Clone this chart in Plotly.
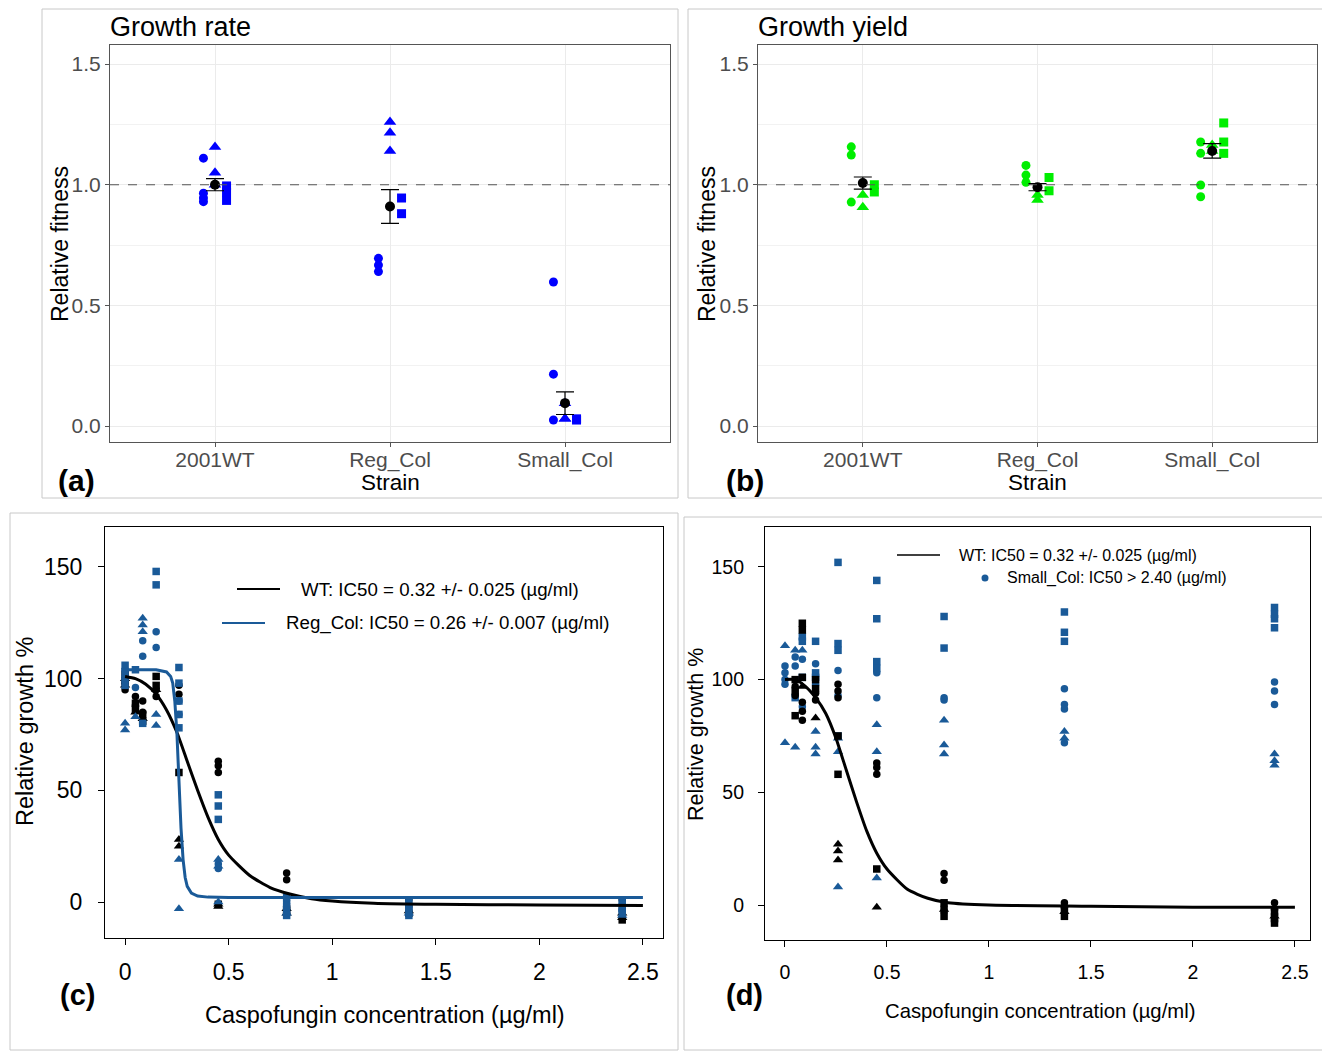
import plotly.graph_objects as go

OFF = 8  # page body margin of the html page
W, H = 1330 - OFF, 1051 - OFF
FONT = "Liberation Sans, Arial, sans-serif"
BLUE_A = "#0000FF"
GREEN_B = "#00EE00"
BLUE_C = "#1A5A98"


def px(x):
    return (x - OFF) / W


def py(y):
    return 1 - (y - OFF) / H


# ---------------- data ----------------
strains = ["2001WT", "Reg_Col", "Small_Col"]

# (a) growth rate: strain index (1..3) and relative fitness per replicate shape
rate_circle_s = [1, 1, 1, 1, 2, 2, 2, 3, 3, 3]
rate_circle_v = [1.11, 0.965, 0.945, 0.93, 0.695, 0.667, 0.64, 0.597, 0.215, 0.025]
rate_tri_s = [1, 1, 1, 2, 2, 2, 3, 3, 3]
rate_tri_v = [1.156, 1.05, 1.0, 1.26, 1.215, 1.14, 0.095, 0.03, 0.03]
rate_sq_s = [1, 1, 1, 2, 2, 3, 3]
rate_sq_v = [0.995, 0.97, 0.935, 0.945, 0.88, 0.03, 0.025]
rate_mean = [1.0, 0.91, 0.095]
rate_err = [0.025, 0.07, 0.047]

# (b) growth yield
yield_circle_s = [1, 1, 1, 2, 2, 2, 3, 3, 3, 3]
yield_circle_v = [1.157, 1.123, 0.928, 1.08, 1.04, 1.01, 1.177, 1.13, 0.999, 0.95]
yield_tri_s = [1, 1, 2, 2, 3, 3]
yield_tri_v = [0.957, 0.907, 0.957, 0.937, 1.165, 1.14]
yield_sq_s = [1, 1, 2, 2, 3, 3, 3]
yield_sq_v = [1.0, 0.97, 1.03, 0.975, 1.256, 1.177, 1.13]
yield_mean = [1.007, 0.99, 1.14]
yield_err = [0.025, 0.015, 0.03]

# (c) dose response, WT (black) and Reg_Col (blue)
c_wt_circle_x = [0, 0, 0.05, 0.05, 0.085, 0.085, 0.15, 0.15, 0.26, 0.26, 0.45, 0.45, 0.45, 0.78, 0.78, 0.78, 1.37, 1.37, 2.4, 2.4]
c_wt_circle_y = [98, 95, 92, 88, 90, 85, 95, 92, 97, 93, 63, 61, 58, 13, 10, -2, 1, -2, 1, -3]
c_wt_tri_x = [0, 0, 0.05, 0.085, 0.15, 0.26, 0.26, 0.45, 0.45, 0.78, 0.78, 1.37, 2.4, 2.4]
c_wt_tri_y = [100, 97, 85, 82, 95, 28, 25, -1, -2, -3, -5, -4, -5, -7]
c_wt_sq_x = [0, 0, 0.05, 0.05, 0.085, 0.085, 0.15, 0.15, 0.26, 0.45, 0.78, 1.37, 2.4]
c_wt_sq_y = [102, 99, 89, 86, 84, 81, 101, 97, 58, -1, -4, -5, -8]

c_reg_circle_x = [0, 0, 0.05, 0.085, 0.085, 0.15, 0.15, 0.26, 0.26, 0.45, 0.45, 0.78, 0.78, 1.37, 1.37, 2.4, 2.4]
c_reg_circle_y = [104, 100, 96, 117, 110, 121, 114, 90, 84, 17, 15, 0, -4, -1, -3, -1, -4]
c_reg_tri_x = [0, 0, 0.05, 0.085, 0.085, 0.085, 0.15, 0.15, 0.26, 0.26, 0.45, 0.45, 0.45, 0.78, 1.37, 2.4]
c_reg_tri_y = [80, 77, 83, 127, 124, 121, 84, 79, 19, -3, 19, 16, 0, -5, -5, -6]
c_reg_sq_x = [0, 0, 0, 0, 0.05, 0.085, 0.15, 0.15, 0.26, 0.26, 0.26, 0.26, 0.26, 0.45, 0.45, 0.45, 0.78, 0.78, 0.78, 1.37, 1.37, 1.37, 2.4, 2.4, 2.4]
c_reg_sq_y = [106, 103, 100, 97, 104, 80, 148, 142, 105, 98, 90, 84, 78, 48, 43, 37, 2, -2, -6, 1, -3, -6, 0, -3, -5]

# fitted curves
c_wt_fit_x = [0, 0.05, 0.1, 0.15, 0.2, 0.25, 0.3, 0.35, 0.4, 0.45, 0.5, 0.6, 0.7, 0.8, 0.9, 1.0, 1.2, 1.5, 2.0, 2.5]
c_wt_fit_y = [101, 100, 97.5, 93, 86, 76, 63, 50, 38, 28, 21, 12, 6.5, 3.5, 1.5, 0.5, -0.5, -1, -1.3, -1.5]
c_reg_fit_x = [0, 0.1, 0.15, 0.2, 0.22, 0.23, 0.24, 0.25, 0.26, 0.27, 0.28, 0.29, 0.3, 0.32, 0.35, 0.4, 0.5, 1.0, 2.5]
c_reg_fit_y = [104, 104, 104, 103, 101, 98, 90, 76, 53, 33, 19, 11, 7, 4, 2.7, 2.2, 2, 2, 2]

# (d) dose response, WT (black) and Small_Col (blue)
d_wt_circle_x = [0.05, 0.05, 0.085, 0.085, 0.085, 0.15, 0.15, 0.26, 0.26, 0.26, 0.45, 0.45, 0.45, 0.78, 0.78, 1.37, 1.37, 2.4, 2.4, 2.4]
d_wt_circle_y = [97, 93, 90, 86, 82, 94, 91, 98, 95, 92, 63, 61, 58, 14, 11, 1, -1, 1, -2, -4]
d_wt_tri_x = [0.085, 0.15, 0.26, 0.26, 0.26, 0.45, 0.78, 1.37, 2.4]
d_wt_tri_y = [97, 83, 27, 24, 20, -1, -2, -3, -5]
d_wt_sq_x = [0.05, 0.05, 0.05, 0.085, 0.085, 0.085, 0.15, 0.15, 0.26, 0.26, 0.45, 0.78, 0.78, 0.78, 1.37, 1.37, 2.4, 2.4, 2.4]
d_wt_sq_y = [100, 95, 84, 125, 122, 101, 100, 96, 75, 58, 16, 1, -2, -5, -2, -5, -3, -6, -8]

d_small_circle_x = [0, 0, 0, 0, 0.05, 0.05, 0.085, 0.085, 0.15, 0.15, 0.26, 0.26, 0.45, 0.45, 0.78, 0.78, 1.37, 1.37, 1.37, 1.37, 2.4, 2.4, 2.4]
d_small_circle_y = [106, 103, 100, 98, 110, 106, 109, 88, 107, 98, 104, 93, 103, 92, 92, 91, 96, 89, 87, 72, 99, 95, 89]
d_small_tri_x = [0, 0, 0.05, 0.05, 0.085, 0.15, 0.15, 0.15, 0.26, 0.26, 0.26, 0.45, 0.45, 0.45, 0.78, 0.78, 0.78, 1.37, 1.37, 2.4, 2.4, 2.4]
d_small_tri_y = [115, 72, 113, 70, 113, 77, 70, 67, 74, 68, 8, 80, 68, 12, 82, 71, 67, 77, 74, 67, 64, 62]
d_small_sq_x = [0.05, 0.085, 0.085, 0.085, 0.15, 0.15, 0.15, 0.26, 0.26, 0.26, 0.26, 0.45, 0.45, 0.45, 0.45, 0.78, 0.78, 1.37, 1.37, 1.37, 2.4, 2.4, 2.4, 2.4]
d_small_sq_y = [92, 119, 117, 101, 117, 103, 101, 152, 116, 113, 75, 144, 127, 108, 105, 128, 114, 130, 121, 117, 132, 129, 127, 123]

d_wt_fit_x = [0, 0.05, 0.1, 0.15, 0.2, 0.25, 0.3, 0.35, 0.4, 0.45, 0.5, 0.6, 0.7, 0.8, 1.0, 1.5, 2.0, 2.5]
d_wt_fit_y = [100, 100, 97, 92, 85, 74, 60, 46, 33, 23, 16, 7, 3, 1, 0, -0.5, -1, -1]

conc_ticks = [0, 0.5, 1, 1.5, 2, 2.5]
conc_ticktext = ["0", "0.5", "1", "1.5", "2", "2.5"]
growth_ticks = [0, 50, 100, 150]
fit_ticks = [0, 0.5, 1.0, 1.5]
fit_ticktext = ["0.0", "0.5", "1.0", "1.5"]

# ---------------- figure ----------------
fig = go.Figure()

JIT = 0.066  # horizontal dodge of replicate shapes


def strain_points(xa, ya, s, v, off, symbol, color, size):
    fig.add_trace(go.Scatter(
        x=[i + off for i in s], y=v, mode="markers", xaxis=xa, yaxis=ya,
        marker=dict(symbol=symbol, color=color, size=size, line=dict(width=0)),
        showlegend=False, hoverinfo="skip"))


for xa, ya, col, cs, cv, ts, tv, ss, sv, mean, err in [
    ("x", "y", BLUE_A, rate_circle_s, rate_circle_v, rate_tri_s, rate_tri_v, rate_sq_s, rate_sq_v, rate_mean, rate_err),
    ("x2", "y2", GREEN_B, yield_circle_s, yield_circle_v, yield_tri_s, yield_tri_v, yield_sq_s, yield_sq_v, yield_mean, yield_err),
]:
    strain_points(xa, ya, cs, cv, -JIT, "circle", col, 9)
    strain_points(xa, ya, ts, tv, 0, "triangle-up", col, 11)
    strain_points(xa, ya, ss, sv, JIT, "square", col, 9)
    fig.add_trace(go.Scatter(
        x=[1, 2, 3], y=mean, mode="markers", xaxis=xa, yaxis=ya,
        marker=dict(symbol="circle", color="black", size=10),
        error_y=dict(type="data", array=err, color="black", thickness=1.2, width=9),
        showlegend=False, hoverinfo="skip"))


def conc_points(xa, ya, x, y, symbol, color, size):
    fig.add_trace(go.Scatter(
        x=x, y=y, mode="markers", xaxis=xa, yaxis=ya,
        marker=dict(symbol=symbol, color=color, size=size, line=dict(width=0)),
        showlegend=False, hoverinfo="skip"))


# (c)
conc_points("x3", "y3", c_wt_circle_x, c_wt_circle_y, "circle", "black", 7.5)
conc_points("x3", "y3", c_wt_tri_x, c_wt_tri_y, "triangle-up", "black", 9)
conc_points("x3", "y3", c_wt_sq_x, c_wt_sq_y, "square", "black", 7.5)
conc_points("x3", "y3", c_reg_circle_x, c_reg_circle_y, "circle", BLUE_C, 7.5)
conc_points("x3", "y3", c_reg_tri_x, c_reg_tri_y, "triangle-up", BLUE_C, 9)
conc_points("x3", "y3", c_reg_sq_x, c_reg_sq_y, "square", BLUE_C, 7.5)
fig.add_trace(go.Scatter(x=c_wt_fit_x, y=c_wt_fit_y, mode="lines", xaxis="x3", yaxis="y3",
                         line=dict(color="black", width=3, shape="spline", smoothing=0.6),
                         showlegend=False, hoverinfo="skip"))
fig.add_trace(go.Scatter(x=c_reg_fit_x, y=c_reg_fit_y, mode="lines", xaxis="x3", yaxis="y3",
                         line=dict(color=BLUE_C, width=3),
                         showlegend=False, hoverinfo="skip"))

# (d)
conc_points("x4", "y4", d_small_circle_x, d_small_circle_y, "circle", BLUE_C, 7.5)
conc_points("x4", "y4", d_small_tri_x, d_small_tri_y, "triangle-up", BLUE_C, 9)
conc_points("x4", "y4", d_small_sq_x, d_small_sq_y, "square", BLUE_C, 7.5)
conc_points("x4", "y4", d_wt_circle_x, d_wt_circle_y, "circle", "black", 7.5)
conc_points("x4", "y4", d_wt_tri_x, d_wt_tri_y, "triangle-up", "black", 9)
conc_points("x4", "y4", d_wt_sq_x, d_wt_sq_y, "square", "black", 7.5)
fig.add_trace(go.Scatter(x=d_wt_fit_x, y=d_wt_fit_y, mode="lines", xaxis="x4", yaxis="y4",
                         line=dict(color="black", width=3, shape="spline", smoothing=0.6),
                         showlegend=False, hoverinfo="skip"))

# ---------------- axes ----------------
cat_x = dict(range=[0.4, 3.6], tickvals=[1, 2, 3], ticktext=strains, showgrid=True,
             gridcolor="#EBEBEB", gridwidth=1, zeroline=False, showline=True, mirror=True,
             linecolor="#555555", linewidth=1, ticks="outside", ticklen=4, tickcolor="#555555",
             tickfont=dict(family=FONT, size=21, color="#4D4D4D"), ticklabelstandoff=-5)
fit_y = dict(range=[-0.066, 1.579], tickvals=fit_ticks, ticktext=fit_ticktext,
             showgrid=True, gridcolor="#EBEBEB", gridwidth=1, zeroline=False, showline=True,
             mirror=True, linecolor="#555555", linewidth=1, ticks="outside", ticklen=4,
             tickcolor="#555555", tickfont=dict(family=FONT, size=21, color="#4D4D4D"),
             minor=dict(tickvals=[0.25, 0.75, 1.25], showgrid=True, gridcolor="#F2F2F2", ticks=""))
conc_x = dict(tickvals=conc_ticks, ticktext=conc_ticktext, showgrid=False, zeroline=False,
              showline=True, mirror=True, linecolor="black", linewidth=1.2, ticks="outside",
              ticklen=6, tickcolor="black")
conc_y = dict(tickvals=growth_ticks, showgrid=False, zeroline=False, showline=True, mirror=True,
              linecolor="black", linewidth=1.2, ticks="outside", ticklen=6, tickcolor="black")

fig.update_layout(
    width=W, height=H, margin=dict(l=0, r=0, t=0, b=0),
    paper_bgcolor="white", plot_bgcolor="white", showlegend=False,
    xaxis=dict(cat_x, domain=[px(110), px(670)], anchor="y"),
    yaxis=dict(fit_y, domain=[py(442), py(45)], anchor="x"),
    xaxis2=dict(cat_x, domain=[px(758), px(1317)], anchor="y2"),
    yaxis2=dict(fit_y, domain=[py(442), py(45)], anchor="x2"),
    xaxis3=dict(conc_x, domain=[px(105), px(663)], anchor="y3", range=[-0.097, 2.597],
                tickfont=dict(family=FONT, size=23, color="black"), ticklabelstandoff=7),
    yaxis3=dict(conc_y, domain=[py(938), py(527)], anchor="x3", range=[-16.1, 167.9],
                tickfont=dict(family=FONT, size=23, color="black"), ticklabelstandoff=11),
    xaxis4=dict(conc_x, domain=[px(765), px(1310)], anchor="y4", range=[-0.098, 2.574],
                tickfont=dict(family=FONT, size=19.5, color="black"), ticklabelstandoff=8),
    yaxis4=dict(conc_y, domain=[py(940), py(527)], anchor="x4", range=[-15.5, 167.7],
                tickfont=dict(family=FONT, size=19.5, color="black"), ticklabelstandoff=10),
)

# dashed reference line at relative fitness 1
for xr, yr in [("x domain", "y"), ("x2 domain", "y2")]:
    fig.add_shape(type="line", xref=xr, yref=yr, x0=0, x1=1, y0=1, y1=1,
                  line=dict(color="#555555", width=1.2, dash="dash"))

# panel frames
for x0, y0, x1, y1 in [(42, 9, 678, 498), (688, 9, 1325, 498), (10, 513, 678, 1050), (684, 517, 1325, 1050)]:
    fig.add_shape(type="rect", xref="paper", yref="paper", x0=px(x0), x1=px(x1), y0=py(y1), y1=py(y0),
                  line=dict(color="#C8C8C8", width=1))

# legend samples
fig.add_shape(type="line", xref="paper", yref="paper", x0=px(237), x1=px(280), y0=py(589), y1=py(589),
              line=dict(color="black", width=2))
fig.add_shape(type="line", xref="paper", yref="paper", x0=px(222), x1=px(265), y0=py(623), y1=py(623),
              line=dict(color=BLUE_C, width=2))
fig.add_shape(type="line", xref="paper", yref="paper", x0=px(897), x1=px(940), y0=py(555), y1=py(555),
              line=dict(color="black", width=1.5))
fig.add_shape(type="circle", xref="paper", yref="paper", x0=px(981.5), x1=px(988.5), y0=py(581.5), y1=py(574.5),
              fillcolor=BLUE_C, line=dict(width=0))


def text(x, y, s, size, xanchor="left", yanchor="middle", color="black", angle=0):
    fig.add_annotation(x=px(x), y=py(y), xref="paper", yref="paper", text=s, showarrow=False,
                       xanchor=xanchor, yanchor=yanchor, textangle=angle,
                       font=dict(family=FONT, size=size, color=color))


text(108, 27, "Growth rate", 27)
text(756, 27, "Growth yield", 27)
text(60, 244, "Relative fitness", 23, xanchor="center", angle=-90)
text(707, 244, "Relative fitness", 23, xanchor="center", angle=-90)
text(390, 482, "Strain", 22.5, xanchor="center")
text(1037, 482, "Strain", 22.5, xanchor="center")
text(56, 481, "<b>(a)</b>", 30)
text(724, 481, "<b>(b)</b>", 30)

text(25, 732, "Relative growth %", 23.5, xanchor="center", angle=-90)
text(385, 1015, "Caspofungin concentration (µg/ml)", 23.5, xanchor="center")
text(58, 995, "<b>(c)</b>", 29)
text(299, 589, "WT: IC50 = 0.32 +/- 0.025 (µg/ml)", 18.7)
text(284, 623, "Reg_Col: IC50 = 0.26 +/- 0.007 (µg/ml)", 18.7)

text(696, 735, "Relative growth %", 21.5, xanchor="center", angle=-90)
text(1040, 1011, "Caspofungin concentration (µg/ml)", 20.3, xanchor="center")
text(724, 995, "<b>(d)</b>", 29)
text(957, 555, "WT: IC50 = 0.32 +/- 0.025 (µg/ml)", 16)
text(1005, 578, "Small_Col: IC50 > 2.40 (µg/ml)", 16)

fig.write_html("out.html")
